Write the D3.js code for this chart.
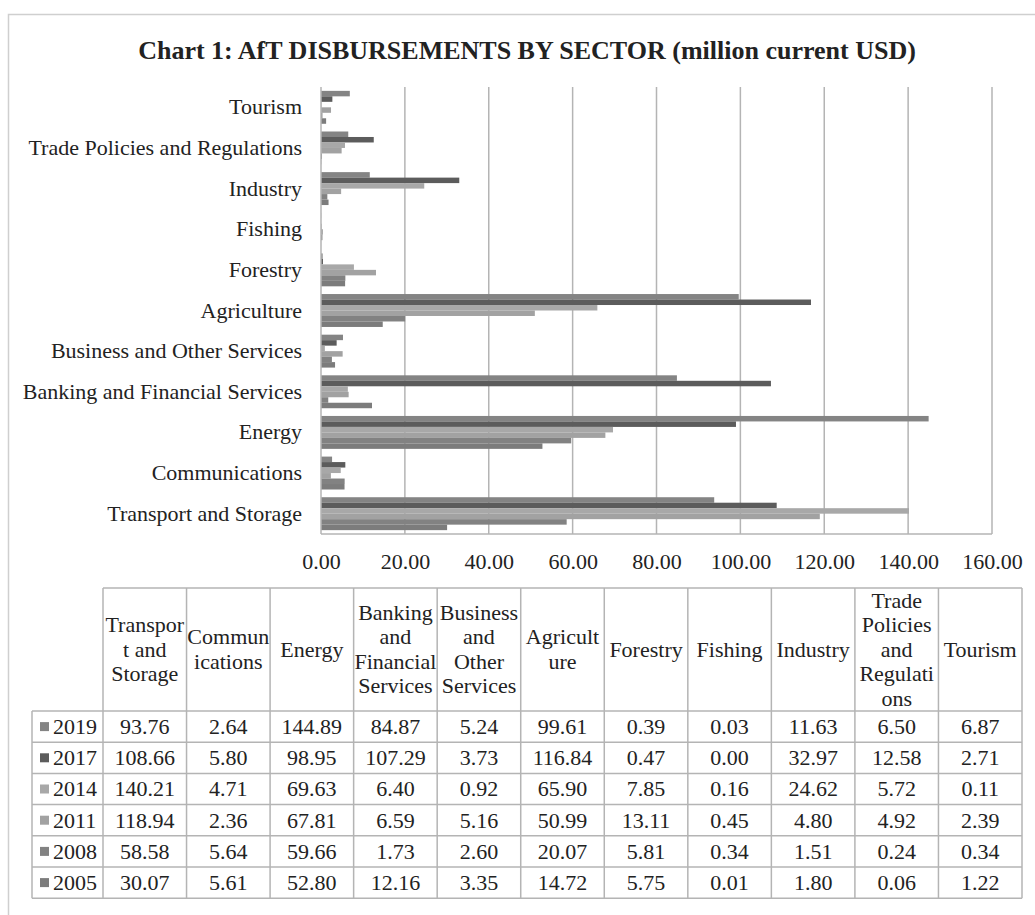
<!DOCTYPE html>
<html>
<head>
<meta charset="utf-8">
<script src="https://cdn.jsdelivr.net/npm/d3@7"></script>
<style>
  html, body { margin: 0; padding: 0; background: #fff; }
  svg { display: block; }
  text { font-family: "Liberation Serif", "Times New Roman", serif; fill: #222; }
</style>
</head>
<body>
<svg id="chart" width="1035" height="915"></svg>
<script>
// Sectors, in table order (first one is drawn at the bottom of the chart)
const categories = [
  "Transport and Storage", "Communications", "Energy",
  "Banking and Financial Services", "Business and Other Services",
  "Agriculture", "Forestry", "Fishing", "Industry",
  "Trade Policies and Regulations", "Tourism"
];
// Column headings of the data table, wrapped as printed
const headerLines = [
  ["Transpor", "t and", "Storage"], ["Commun", "ications"], ["Energy"],
  ["Banking", "and", "Financial", "Services"], ["Business", "and", "Other", "Services"],
  ["Agricult", "ure"], ["Forestry"], ["Fishing"], ["Industry"],
  ["Trade", "Policies", "and", "Regulati", "ons"], ["Tourism"]
];
const years = ["2019", "2017", "2014", "2011", "2008", "2005"];
const v2019 = [93.76, 2.64, 144.89, 84.87, 5.24, 99.61, 0.39, 0.03, 11.63, 6.50, 6.87];
const v2017 = [108.66, 5.80, 98.95, 107.29, 3.73, 116.84, 0.47, 0.00, 32.97, 12.58, 2.71];
const v2014 = [140.21, 4.71, 69.63, 6.40, 0.92, 65.90, 7.85, 0.16, 24.62, 5.72, 0.11];
const v2011 = [118.94, 2.36, 67.81, 6.59, 5.16, 50.99, 13.11, 0.45, 4.80, 4.92, 2.39];
const v2008 = [58.58, 5.64, 59.66, 1.73, 2.60, 20.07, 5.81, 0.34, 1.51, 0.24, 0.34];
const v2005 = [30.07, 5.61, 52.80, 12.16, 3.35, 14.72, 5.75, 0.01, 1.80, 0.06, 1.22];
const xTicks = [0, 20, 40, 60, 80, 100, 120, 140, 160];
const title = "Chart 1: AfT DISBURSEMENTS BY SECTOR (million current USD)";

const seriesValues = [v2019, v2017, v2014, v2011, v2008, v2005];
const colors = ["#848484", "#5c5c5c", "#a8a8a8", "#a2a2a2", "#828282", "#7c7c7c"];
const fmt = d3.format(".2f");
const fontSize = "22px";

const svg = d3.select("#chart");

// outer frame
svg.append("rect")
  .attr("x", 8.5).attr("y", 14.5).attr("width", 1100).attr("height", 1000)
  .attr("fill", "none").attr("stroke", "#cfcfcf").attr("stroke-width", 1.5);

svg.append("text")
  .attr("x", 527).attr("y", 59)
  .attr("text-anchor", "middle")
  .style("font-size", "26px").style("font-weight", "bold")
  .text(title);

// ---- bar chart ----
const plot = { left: 321, right: 992, top: 87, bottom: 534 };
const x = d3.scaleLinear().domain([0, 160]).range([plot.left, plot.right]);
const y = d3.scaleBand()
  .domain(categories.slice().reverse())
  .range([plot.top, plot.bottom])
  .paddingInner(0.19).paddingOuter(0.095);
const yInner = d3.scaleBand().domain(years).range([0, y.bandwidth()]);

// vertical gridlines
svg.append("g")
  .selectAll("line")
  .data(xTicks.filter(d => d > 0))
  .join("line")
  .attr("x1", d => x(d)).attr("x2", d => x(d))
  .attr("y1", plot.top).attr("y2", plot.bottom)
  .attr("stroke", "#b4b4b4").attr("stroke-width", 1.5);

// bars
const groups = svg.append("g")
  .selectAll("g")
  .data(categories)
  .join("g")
  .attr("transform", d => `translate(0,${y(d)})`);

groups.selectAll("rect")
  .data((c, i) => years.map((yr, k) => ({ yr, k, v: seriesValues[k][i] })))
  .join("rect")
  .attr("x", x(0))
  .attr("y", d => yInner(d.yr))
  .attr("width", d => x(d.v) - x(0))
  .attr("height", yInner.bandwidth())
  .attr("fill", d => colors[d.k]);

// axis lines
svg.append("line")
  .attr("x1", plot.left).attr("x2", plot.left)
  .attr("y1", plot.top).attr("y2", plot.bottom)
  .attr("stroke", "#b4b4b4").attr("stroke-width", 1.5);
svg.append("line")
  .attr("x1", plot.left).attr("x2", plot.right)
  .attr("y1", plot.bottom).attr("y2", plot.bottom)
  .attr("stroke", "#b4b4b4").attr("stroke-width", 1.5);

// x tick labels
const xAxis = svg.append("g")
  .attr("transform", `translate(0,${plot.bottom})`)
  .call(d3.axisBottom(x).tickValues(xTicks).tickFormat(fmt).tickSize(0).tickPadding(19));
xAxis.select(".domain").remove();
xAxis.selectAll("text")
  .style("font-size", fontSize).style("font-family", "Liberation Serif, serif").attr("fill", "#222");

// category labels
const yAxis = svg.append("g")
  .attr("transform", `translate(${plot.left},0)`)
  .call(d3.axisLeft(y).tickSize(0).tickPadding(19));
yAxis.select(".domain").remove();
yAxis.selectAll("text")
  .style("font-size", fontSize).style("font-family", "Liberation Serif, serif").attr("fill", "#222");

// ---- data table ----
const tbl = { left: 103, right: 1022, top: 588, headBottom: 711, rowH: 31.2, labelLeft: 32 };
const col = d3.scaleBand().domain(categories).range([tbl.left, tbl.right]);
const row = d3.scaleBand().domain(years)
  .range([tbl.headBottom, tbl.headBottom + tbl.rowH * years.length]);
const tableBottom = tbl.headBottom + tbl.rowH * years.length;
const gridColor = "#b4b4b4";
const grid = svg.append("g").attr("stroke", gridColor).attr("stroke-width", 1.5);

// horizontal rules
grid.append("line").attr("x1", tbl.left).attr("x2", tbl.right)
  .attr("y1", tbl.top).attr("y2", tbl.top);
grid.selectAll("line.h")
  .data(years.concat(["end"]))
  .join("line").attr("class", "h")
  .attr("x1", tbl.labelLeft).attr("x2", tbl.right)
  .attr("y1", (d, i) => tbl.headBottom + i * tbl.rowH)
  .attr("y2", (d, i) => tbl.headBottom + i * tbl.rowH);
// vertical rules
grid.append("line").attr("x1", tbl.labelLeft).attr("x2", tbl.labelLeft)
  .attr("y1", tbl.headBottom).attr("y2", tableBottom);
grid.selectAll("line.v")
  .data(categories.concat(["end"]))
  .join("line").attr("class", "v")
  .attr("x1", (d, i) => tbl.left + i * col.step())
  .attr("x2", (d, i) => tbl.left + i * col.step())
  .attr("y1", tbl.top).attr("y2", tableBottom);

// header cells
const headMid = (tbl.top + tbl.headBottom) / 2;
const lineH = 24.5;
svg.append("g").selectAll("text")
  .data(categories)
  .join("text")
  .attr("text-anchor", "middle")
  .style("font-size", fontSize)
  .each(function (c, i) {
    const lines = headerLines[i];
    const t = d3.select(this);
    const y0 = headMid - (lines.length - 1) * lineH / 2 + 7;
    lines.forEach((ln, j) => {
      t.append("tspan")
        .attr("x", col(c) + col.bandwidth() / 2)
        .attr("y", y0 + j * lineH)
        .text(ln);
    });
  });

// row labels with legend keys
const rows = svg.append("g").selectAll("g")
  .data(years)
  .join("g")
  .attr("transform", d => `translate(0,${row(d)})`);
rows.append("rect")
  .attr("x", 40).attr("y", tbl.rowH / 2 - 4.5)
  .attr("width", 9).attr("height", 9)
  .attr("fill", (d, i) => colors[i]);
rows.append("text")
  .attr("x", 53).attr("y", tbl.rowH / 2 + 7.5)
  .style("font-size", fontSize)
  .text(d => d);
rows.selectAll("text.val")
  .data((yr, k) => categories.map((c, i) => ({ c, v: seriesValues[k][i] })))
  .join("text").attr("class", "val")
  .attr("x", d => col(d.c) + col.bandwidth() / 2)
  .attr("y", tbl.rowH / 2 + 7.5)
  .attr("text-anchor", "middle")
  .style("font-size", fontSize)
  .text(d => fmt(d.v));
</script>
</body>
</html>
